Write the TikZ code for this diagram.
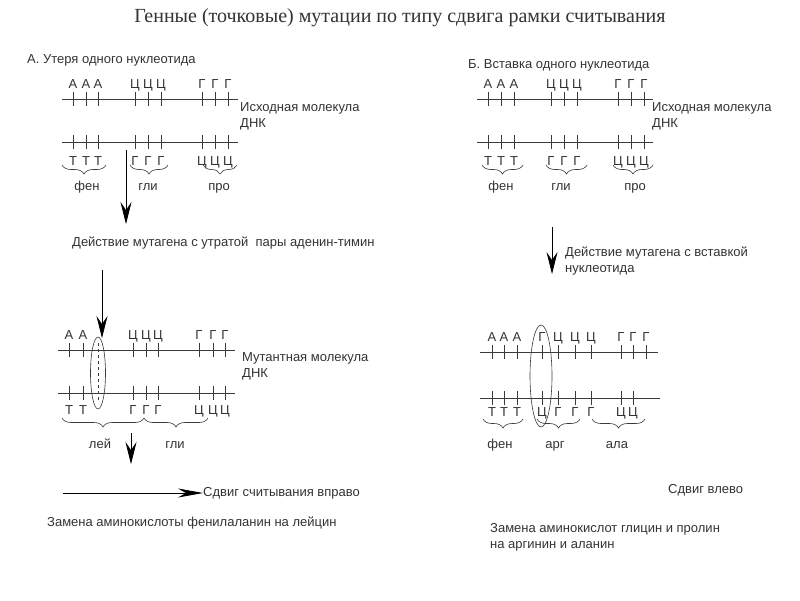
\documentclass[tikz,border=0pt]{standalone}
\usepackage{fontspec}
\setmainfont{Liberation Serif}
\newfontfamily\arialfont{Liberation Sans}
\usepackage{xcolor}
\usetikzlibrary{arrows.meta, decorations.pathreplacing, shapes.geometric, positioning}
\definecolor{inkgray}{HTML}{333333}
\definecolor{linegray}{HTML}{3A3A3A}

\begin{document}
\begin{tikzpicture}[
    x=1pt, y=-1pt,
    strand/.style={draw=linegray, line width=0.8pt},
    nucl/.style={draw=linegray, line width=0.8pt},
    base/.style={font=\arialfont\fontsize{13}{13}\selectfont, text=inkgray, inner sep=0pt,
        anchor=base},
    txt/.style={font=\arialfont\fontsize{13}{16}\selectfont, text=inkgray, anchor=west,
        align=left, inner sep=0pt},
    brc/.style={draw=linegray, line width=0.6pt, decorate,
        decoration={brace, mirror, amplitude=9pt}},
    arr/.style={draw=black, line width=0.7pt, -{Stealth[length=22pt, width=11pt, inset=8pt]}},
    oval/.style={ellipse, draw=linegray, line width=0.6pt, inner sep=0pt}
]
    \fill[white] (0,0) rectangle (800,600);
    \useasboundingbox (0,0) rectangle (800,600);

    % title
    \node[font=\fontsize{20}{23}\selectfont, text=inkgray] (title) at (400,18)
        {Генные (точковые) мутации по типу сдвига рамки считывания};

    % ---------- A: loss of one nucleotide ----------
    \node[txt] (headA) at (27,60) {А. Утеря одного нуклеотида};

    % original molecule, upper strand
    \coordinate (la1) at (62,99);
    \coordinate (la2) at (238,99);
    \draw[strand] (la1) -- (la2);
    \foreach \x/\b [count=\i] in {73/А,86/А,98/А,135/Ц,148/Ц,161/Ц,202/Г,215/Г,228/Г} {
        \draw[nucl] (\x,92) -- (\x,106);
        \node[base] (la-\i) at (\x,88) {\b};
    }
    % original molecule, lower strand
    \coordinate (lb1) at (62,142);
    \coordinate (lb2) at (238,142);
    \draw[strand] (lb1) -- (lb2);
    \foreach \x/\b [count=\i] in {73/Т,86/Т,98/Т,135/Г,148/Г,161/Г,202/Ц,215/Ц,228/Ц} {
        \draw[nucl] (\x,135) -- (\x,149);
        \node[base] (lb-\i) at (\x,165) {\b};
    }
    \node[txt] (origA) at (240,116) {Исходная молекула\\ДНК};

    % codons
    \draw[brc] (62,165) -- (106,165);
    \draw[brc] (130,165) -- (168,165);
    \draw[brc] (203,165) -- (237,165);
    \node[base] (fenA) at (87,190) {фен};
    \node[base] (gliA) at (148,190) {гли};
    \node[base] (proA) at (219,190) {про};

    % mutagen
    \coordinate (m1s) at (126,150);
    \coordinate (m1e) at (126,224);
    \draw[arr] (m1s) -- (m1e);
    \node[txt] (actA) at (72,243) {Действие мутагена с утратой\ \ пары аденин-тимин};
    \coordinate (m2s) at (102,270);
    \coordinate (m2e) at (102,338);
    \draw[arr] (m2s) -- (m2e);

    % mutant molecule, upper strand
    \coordinate (ma1) at (58,350);
    \coordinate (ma2) at (235,350);
    \draw[strand] (ma1) -- (ma2);
    \foreach \x/\b [count=\i] in {69/А,83/А,133/Ц,146/Ц,158/Ц,199/Г,213/Г,225/Г} {
        \draw[nucl] (\x,343) -- (\x,357);
        \node[base] (ma-\i) at (\x,339) {\b};
    }
    % mutant molecule, lower strand
    \coordinate (mb1) at (58,393);
    \coordinate (mb2) at (235,393);
    \draw[strand] (mb1) -- (mb2);
    \foreach \x/\b [count=\i] in {69/Т,83/Т,133/Г,146/Г,158/Г,199/Ц,213/Ц,225/Ц} {
        \draw[nucl] (\x,386) -- (\x,400);
        \node[base] (mb-\i) at (\x,414) {\b};
    }
    % lost pair
    \coordinate (gapt) at (98,343);
    \coordinate (gapb) at (98,402);
    \draw[linegray, line width=0.7pt, dashed] (gapt) -- (gapb);
    \node[oval, minimum width=15, minimum height=72] (lost) at (98,373) {};
    \node[txt] (mutA) at (242,366) {Мутантная молекула\\ДНК};

    \draw[brc] (62,418) -- (144,418);
    \draw[brc] (144,418) -- (208,418);
    \node[base] (leiA) at (100,448) {лей};
    \node[base] (gliA2) at (175,448) {гли};

    \coordinate (m3s) at (131,433);
    \coordinate (m3e) at (131,464);
    \draw[arr] (m3s) -- (m3e);

    % shift to the right
    \node[txt] (shiftR) at (203,493) {Сдвиг считывания вправо};
    \coordinate (shs) at (63,493);
    \draw[arr, -{Stealth[length=25pt, width=9pt, inset=8pt]}] (shs) -- (shiftR.west);
    \node[txt] (resA) at (47,523) {Замена аминокислоты фенилаланин на лейцин};

    % ---------- B: insertion of one nucleotide ----------
    \node[txt] (headB) at (468,65) {Б. Вставка одного нуклеотида};

    % original molecule, upper strand
    \coordinate (ra1) at (477,99);
    \coordinate (ra2) at (653,99);
    \draw[strand] (ra1) -- (ra2);
    \foreach \x/\b [count=\i] in {488/А,501/А,514/А,551/Ц,564/Ц,577/Ц,618/Г,631/Г,644/Г} {
        \draw[nucl] (\x,92) -- (\x,106);
        \node[base] (ra-\i) at (\x,88) {\b};
    }
    % original molecule, lower strand
    \coordinate (rb1) at (477,142);
    \coordinate (rb2) at (653,142);
    \draw[strand] (rb1) -- (rb2);
    \foreach \x/\b [count=\i] in {488/Т,501/Т,514/Т,551/Г,564/Г,577/Г,618/Ц,631/Ц,644/Ц} {
        \draw[nucl] (\x,135) -- (\x,149);
        \node[base] (rb-\i) at (\x,165) {\b};
    }
    \node[txt] (origB) at (652,116) {Исходная молекула\\ДНК};

    \draw[brc] (482,165) -- (523,165);
    \draw[brc] (546,165) -- (587,165);
    \draw[brc] (613,165) -- (653,165);
    \node[base] (fenB) at (501,190) {фен};
    \node[base] (gliB) at (561,190) {гли};
    \node[base] (proB) at (635,190) {про};

    % mutagen
    \coordinate (m4s) at (552,227);
    \coordinate (m4e) at (552,274);
    \draw[arr] (m4s) -- (m4e);
    \node[txt] (actB) at (565,261) {Действие мутагена с вставкой\\нуклеотида};

    % mutant molecule, upper strand
    \coordinate (na1) at (480,352);
    \coordinate (na2) at (658,352);
    \draw[strand] (na1) -- (na2);
    \foreach \x/\b [count=\i] in {492/А,504/А,517/А,542/Г,558/Ц,575/Ц,591/Ц,621/Г,633/Г,646/Г} {
        \draw[nucl] (\x,345) -- (\x,359);
        \node[base] (na-\i) at (\x,341) {\b};
    }
    % mutant molecule, lower strand
    \coordinate (nb1) at (480,398);
    \coordinate (nb2) at (660,398);
    \draw[strand] (nb1) -- (nb2);
    \foreach \x/\b [count=\i] in {492/Т,504/Т,517/Т,542/Ц,558/Г,575/Г,591/Г,621/Ц,633/Ц} {
        \draw[nucl] (\x,391) -- (\x,405);
        \node[base] (nb-\i) at (\x,416) {\b};
    }
    % inserted pair
    \node[oval, minimum width=22, minimum height=102] (added) at (541,376) {};

    \draw[brc] (483,419) -- (523,419);
    \draw[brc] (537,419) -- (580,419);
    \draw[brc] (592,419) -- (645,419);
    \node[base] (fenB2) at (500,448) {фен};
    \node[base] (argB) at (555,448) {арг};
    \node[base] (alaB) at (617,448) {ала};

    % shift to the left
    \node[txt] (shiftL) at (668,490) {Сдвиг влево};
    \node[txt] (resB) at (490,537) {Замена аминокислот глицин и пролин\\на аргинин и аланин};
\end{tikzpicture}
\end{document}
